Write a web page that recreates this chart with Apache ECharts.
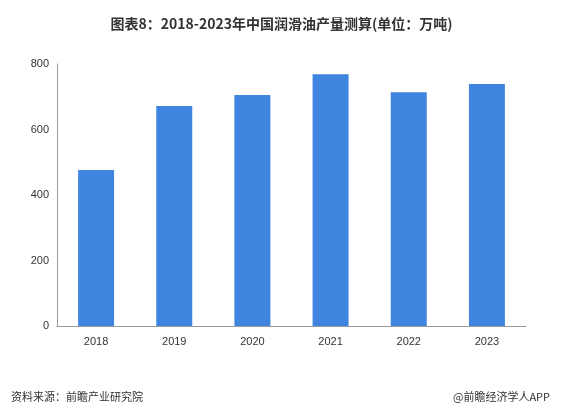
<!DOCTYPE html>
<html><head><meta charset="utf-8">
<script src="https://cdn.jsdelivr.net/npm/echarts@6/dist/echarts.min.js"></script>
<style>html,body{margin:0;padding:0;background:#fff}#c{width:563px;height:417px}</style>
</head><body><div id="c"></div>
<script>
const categories = ['2018','2019','2020','2021','2022','2023'];
const values = [476, 672, 705, 769, 714, 739];
const chart = echarts.init(document.getElementById('c'));
chart.setOption({
  animation:false,
  title:[{text:'图表8：2018-2023年中国润滑油产量测算(单位：万吨)',left:'center',top:12,
    textStyle:{fontSize:14,fontWeight:'bold',color:'#333',fontFamily:'Noto Sans CJK SC'}},
    {text:'资料来源：前瞻产业研究院',left:6,bottom:10,textStyle:{fontSize:11,fontWeight:'normal',color:'#333',fontFamily:'Noto Sans CJK SC'}},
    {text:'@前瞻经济学人APP',right:8,bottom:10,textStyle:{fontSize:11,fontWeight:'normal',color:'#333',fontFamily:'Noto Sans CJK SC'}}],
  grid:{left:57,right:37,top:64,bottom:91},
  xAxis:{type:'category',data:categories,axisTick:{show:false},
    axisLine:{lineStyle:{color:'#999'}},axisLabel:{color:'#333',fontSize:11,margin:10}},
  yAxis:{type:'value',min:0,max:800,interval:200,splitLine:{show:false},
    axisLine:{show:true,lineStyle:{color:'#999'}},axisTick:{show:false},axisLabel:{color:'#333',fontSize:11}},
  series:[{type:'bar',data:values,barWidth:36,itemStyle:{color:'#3F85E0'}}]
});
</script></body></html>
